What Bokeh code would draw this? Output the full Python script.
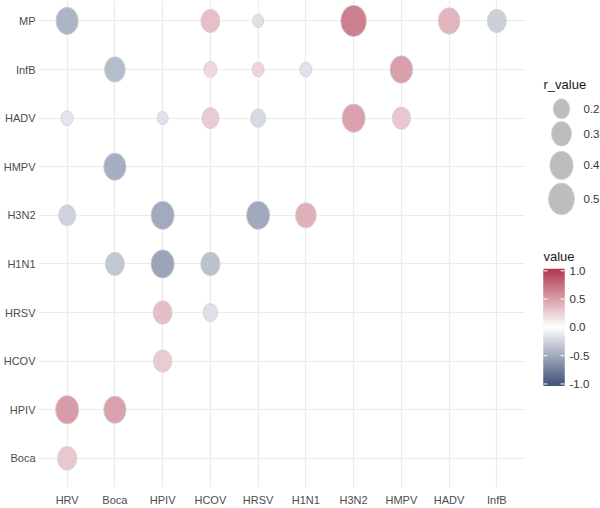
import numpy as np
from bokeh.plotting import figure
from bokeh.models import ColumnDataSource, Range1d, FixedTicker, LinearColorMapper, CustomJSTickFormatter
from bokeh.transform import transform
from bokeh.layouts import row
from bokeh.core.properties import value
from bokeh.embed import file_html
from bokeh.resources import INLINE

# Category order on each axis
x_cats = ["HRV", "Boca", "HPIV", "HCOV", "HRSV", "H1N1", "H3N2", "HMPV", "HADV", "InfB"]
y_cats = ["Boca", "HPIV", "HCOV", "HRSV", "H1N1", "H3N2", "HMPV", "HADV", "InfB", "MP"]  # bottom -> top

# Significant virus pairs: column, row, correlation (colour) and r_value (size)
cell_x = ["HRV", "HCOV", "HRSV", "H3N2", "HADV", "InfB",
          "Boca", "HCOV", "HRSV", "H1N1", "HMPV",
          "HRV", "HPIV", "HCOV", "HRSV", "H3N2", "HMPV",
          "Boca",
          "HRV", "HPIV", "HRSV", "H1N1",
          "Boca", "HPIV", "HCOV",
          "HPIV", "HCOV",
          "HPIV",
          "HRV", "Boca",
          "HRV"]
cell_y = ["MP", "MP", "MP", "MP", "MP", "MP",
          "InfB", "InfB", "InfB", "InfB", "InfB",
          "HADV", "HADV", "HADV", "HADV", "HADV", "HADV",
          "HMPV",
          "H3N2", "H3N2", "H3N2", "H3N2",
          "H1N1", "H1N1", "H1N1",
          "HRSV", "HRSV",
          "HCOV",
          "HPIV", "HPIV",
          "Boca"]
cell_value = [-0.45, 0.32, -0.18, 0.64, 0.37, -0.28,
              -0.40, 0.20, 0.21, -0.17, 0.49,
              -0.15, -0.17, 0.27, -0.22, 0.47, 0.28,
              -0.48,
              -0.27, -0.50, -0.51, 0.40,
              -0.33, -0.53, -0.37,
              0.33, -0.18,
              0.27,
              0.50, 0.47,
              0.28]
r_value = [0.37, 0.27, 0.09, 0.49, 0.35, 0.27,
           0.32, 0.13, 0.11, 0.11, 0.38,
           0.11, 0.09, 0.22, 0.17, 0.40, 0.25,
           0.37,
           0.22, 0.40, 0.40, 0.32,
           0.27, 0.40, 0.28,
           0.27, 0.16,
           0.25,
           0.40, 0.37,
           0.28]

size_breaks = [0.2, 0.3, 0.4, 0.5]
color_breaks = [1.0, 0.5, 0.0, -0.5, -1.0]

FONT = "Liberation Sans"
ASPECT = 1.22  # bubbles are drawn slightly taller than wide


def bubble_width(r):
    # bubble area proportional to r_value
    return 36.8 * np.sqrt(np.asarray(r, dtype=float))


def blend(c1, c2, n):
    a = np.array([int(c1[i:i + 2], 16) for i in (1, 3, 5)], dtype=float)
    b = np.array([int(c2[i:i + 2], 16) for i in (1, 3, 5)], dtype=float)
    out = []
    for t in np.linspace(0, 1, n):
        c = np.round(a + (b - a) * t).astype(int)
        out.append("#%02x%02x%02x" % tuple(c))
    return out


palette = blend("#47577d", "#ffffff", 128) + blend("#ffffff", "#b23b53", 128)[1:]
mapper = LinearColorMapper(palette=palette, low=-1, high=1)

# ---- main bubble panel ----
p = figure(width=525, height=508,
           x_range=Range1d(-0.6, 9.6), y_range=Range1d(-0.6, 9.42),
           output_backend="svg", toolbar_location=None,
           min_border_left=37, min_border_right=0, min_border_top=0, min_border_bottom=21)
p.outline_line_color = None
p.background_fill_color = "white"
p.border_fill_color = "white"

p.xaxis.ticker = FixedTicker(ticks=list(range(len(x_cats))))
p.yaxis.ticker = FixedTicker(ticks=list(range(len(y_cats))))
p.xaxis.formatter = CustomJSTickFormatter(args=dict(labels=x_cats),
                                          code="return labels[Math.round(tick)] || '';")
p.yaxis.formatter = CustomJSTickFormatter(args=dict(labels=y_cats),
                                          code="return labels[Math.round(tick)] || '';")
for ax in (p.xaxis, p.yaxis):
    ax.axis_line_color = None
    ax.major_tick_line_color = None
    ax.minor_tick_line_color = None
    ax.major_tick_out = 0
    ax.major_tick_in = 0
    ax.minor_tick_out = 0
    ax.minor_tick_in = 0
    ax.major_label_text_font = FONT
    ax.major_label_text_font_size = "11px"
    ax.major_label_text_color = "#4d4d4d"
p.xaxis.major_label_standoff = 6
p.yaxis.major_label_standoff = 3

p.grid.grid_line_color = "#ebebeb"
p.grid.grid_line_width = 1.2
p.grid.minor_grid_line_color = None

widths = bubble_width(r_value)
src = ColumnDataSource(dict(
    x=[x_cats.index(c) for c in cell_x],
    y=[y_cats.index(c) for c in cell_y],
    value=cell_value,
    r=r_value,
    w=widths,
    h=widths * ASPECT,
))
p.ellipse(x="x", y="y", width="w", height="h",
          width_units="screen", height_units="screen",
          fill_color=transform("value", mapper), fill_alpha=1.0,
          line_color="#d2d2d2", line_width=0.8, source=src)

# ---- legends panel (page pixel coordinates) ----
s = figure(width=75, height=508, x_range=Range1d(525, 600), y_range=Range1d(508, 0),
           x_axis_type=None, y_axis_type=None,
           output_backend="svg", toolbar_location=None, min_border=0)
s.outline_line_color = None
s.grid.visible = False

# size legend
s.text(x=[543], y=[88], text=["r_value"], text_font=value(FONT), text_font_size="13px",
       text_color="#1a1a1a", text_baseline="middle", text_align="left")
key_y = [113, 139, 172, 207]
kw = bubble_width(size_breaks)
s.ellipse(x=[561] * len(size_breaks), y=key_y, width=kw, height=kw * ASPECT,
          width_units="screen", height_units="screen",
          fill_color="#bdbdbd", line_color="#d0d0d0", line_width=0.8)
s.text(x=[583] * len(size_breaks), y=key_y, text=["%.1f" % b for b in size_breaks],
       text_font=value(FONT), text_font_size="11.5px", text_color="#333333",
       text_baseline="middle", text_align="left")

# colour bar
s.text(x=[543], y=[267], text=["value"], text_font=value(FONT), text_font_size="13px",
       text_color="#1a1a1a", text_baseline="middle", text_align="left")
bar_top, bar_bot = 282.0, 400.0
ys = np.arange(281.0, 401.5, 1.0)
vs = 1 - 2 * (ys - bar_top) / (bar_bot - bar_top)
s.rect(x=553.5, y="y", width=21, height=2.2,
       fill_color=transform("v", mapper), line_color=None,
       source=ColumnDataSource(dict(y=ys, v=vs)))
tick_y = [bar_top + (1 - b) / 2 * (bar_bot - bar_top) for b in color_breaks]
s.segment(x0=[543] * 5, x1=[547] * 5, y0=tick_y, y1=tick_y, line_color="white", line_width=1)
s.segment(x0=[560] * 5, x1=[564] * 5, y0=tick_y, y1=tick_y, line_color="white", line_width=1)
s.text(x=[569] * 5, y=tick_y, text=["%.1f" % b for b in color_breaks],
       text_font=value(FONT), text_font_size="11.5px", text_color="#333333",
       text_baseline="middle", text_align="left")

layout = row(p, s)
open("out.html", "w").write(file_html(layout, INLINE))
